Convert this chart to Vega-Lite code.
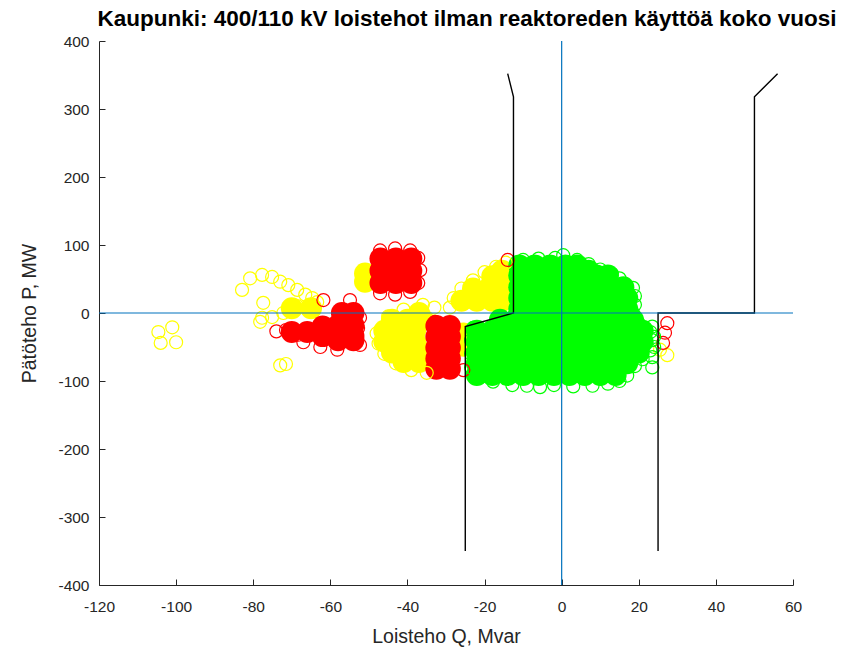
{
  "$schema": "https://vega.github.io/schema/vega-lite/v6.json",
  "width": 694,
  "height": 544,
  "autosize": {"type": "none"},
  "padding": {"left": 99, "top": 41, "right": 52, "bottom": 74},
  "background": "white",
  "config": {"view": {"stroke": null}, "font": "Liberation Sans"},
  "title": {
    "text": "Kaupunki: 400/110 kV loistehot ilman reaktoreden käyttöä koko vuosi",
    "font": "Liberation Sans", "fontSize": 22.5, "fontWeight": "bold", "color": "#000000",
    "anchor": "middle", "dx": 21, "dy": 30, "baseline": "bottom", "offset": 11
  },
  "datasets": {
    "tiheat": [
      {"Q": -70, "P": 7, "luokka": "keltainen"}, {"Q": -65, "P": 7, "luokka": "keltainen"},
      {"Q": -51, "P": 58, "luokka": "keltainen"}, {"Q": -51, "P": 46, "luokka": "keltainen"},
      {"Q": -37, "P": 0, "luokka": "keltainen"},
      {"Q": -44, "P": -10, "luokka": "keltainen"}, {"Q": -40, "P": -10, "luokka": "keltainen"}, {"Q": -36, "P": -10, "luokka": "keltainen"},
      {"Q": -46, "P": -26, "luokka": "keltainen"}, {"Q": -42, "P": -26, "luokka": "keltainen"}, {"Q": -38, "P": -26, "luokka": "keltainen"},
      {"Q": -46, "P": -42, "luokka": "keltainen"}, {"Q": -42, "P": -42, "luokka": "keltainen"}, {"Q": -38, "P": -42, "luokka": "keltainen"},
      {"Q": -44, "P": -58, "luokka": "keltainen"}, {"Q": -40, "P": -58, "luokka": "keltainen"}, {"Q": -36, "P": -58, "luokka": "keltainen"},
      {"Q": -41, "P": -72, "luokka": "keltainen"}, {"Q": -37, "P": -72, "luokka": "keltainen"},
      {"Q": -25.5, "P": -30, "luokka": "keltainen"}, {"Q": -25.5, "P": -48, "luokka": "keltainen"},
      {"Q": -26, "P": 18, "luokka": "keltainen"}, {"Q": -22, "P": 18, "luokka": "keltainen"}, {"Q": -18, "P": 18, "luokka": "keltainen"}, {"Q": -15.5, "P": 18, "luokka": "keltainen"},
      {"Q": -23, "P": 36, "luokka": "keltainen"}, {"Q": -19, "P": 36, "luokka": "keltainen"}, {"Q": -15.5, "P": 36, "luokka": "keltainen"},
      {"Q": -18, "P": 54, "luokka": "keltainen"}, {"Q": -15.5, "P": 54, "luokka": "keltainen"}, {"Q": -15.5, "P": 62, "luokka": "keltainen"},

      {"Q": -47, "P": 80, "luokka": "punainen"}, {"Q": -43, "P": 80, "luokka": "punainen"}, {"Q": -39, "P": 80, "luokka": "punainen"},
      {"Q": -47, "P": 62, "luokka": "punainen"}, {"Q": -43, "P": 62, "luokka": "punainen"}, {"Q": -39, "P": 62, "luokka": "punainen"},
      {"Q": -47, "P": 44, "luokka": "punainen"}, {"Q": -43, "P": 44, "luokka": "punainen"}, {"Q": -39, "P": 44, "luokka": "punainen"},
      {"Q": -57, "P": 0, "luokka": "punainen"}, {"Q": -54, "P": 0, "luokka": "punainen"},
      {"Q": -62, "P": -20, "luokka": "punainen"}, {"Q": -58, "P": -18, "luokka": "punainen"}, {"Q": -54, "P": -18, "luokka": "punainen"},
      {"Q": -66, "P": -28, "luokka": "punainen"}, {"Q": -62, "P": -34, "luokka": "punainen"}, {"Q": -58, "P": -34, "luokka": "punainen"}, {"Q": -54, "P": -34, "luokka": "punainen"},
      {"Q": -58, "P": -40, "luokka": "punainen"}, {"Q": -54, "P": -40, "luokka": "punainen"}, {"Q": -70, "P": -28, "luokka": "punainen"},
      {"Q": -32.5, "P": -19, "luokka": "punainen"}, {"Q": -29, "P": -19, "luokka": "punainen"},
      {"Q": -32.5, "P": -35, "luokka": "punainen"}, {"Q": -29, "P": -35, "luokka": "punainen"},
      {"Q": -32.5, "P": -51, "luokka": "punainen"}, {"Q": -29, "P": -51, "luokka": "punainen"},
      {"Q": -32.5, "P": -67, "luokka": "punainen"}, {"Q": -29, "P": -67, "luokka": "punainen"},
      {"Q": -32.5, "P": -82, "luokka": "punainen"}, {"Q": -29, "P": -82, "luokka": "punainen"},

      {"Q": -11, "P": 70, "luokka": "vihreä"}, {"Q": -7, "P": 70, "luokka": "vihreä"}, {"Q": -3, "P": 70, "luokka": "vihreä"}, {"Q": 1, "P": 70, "luokka": "vihreä"}, {"Q": 4, "P": 70, "luokka": "vihreä"},
      {"Q": 7, "P": 62, "luokka": "vihreä"},
      {"Q": -11, "P": 55, "luokka": "vihreä"}, {"Q": -7, "P": 55, "luokka": "vihreä"}, {"Q": -3, "P": 55, "luokka": "vihreä"}, {"Q": 1, "P": 55, "luokka": "vihreä"}, {"Q": 5, "P": 55, "luokka": "vihreä"}, {"Q": 9, "P": 55, "luokka": "vihreä"}, {"Q": 12, "P": 55, "luokka": "vihreä"},
      {"Q": -11, "P": 38, "luokka": "vihreä"}, {"Q": -7, "P": 38, "luokka": "vihreä"}, {"Q": -3, "P": 38, "luokka": "vihreä"}, {"Q": 1, "P": 38, "luokka": "vihreä"}, {"Q": 5, "P": 38, "luokka": "vihreä"}, {"Q": 9, "P": 38, "luokka": "vihreä"}, {"Q": 13, "P": 38, "luokka": "vihreä"}, {"Q": 16, "P": 38, "luokka": "vihreä"},
      {"Q": -11, "P": 22, "luokka": "vihreä"}, {"Q": -7, "P": 22, "luokka": "vihreä"}, {"Q": -3, "P": 22, "luokka": "vihreä"}, {"Q": 1, "P": 22, "luokka": "vihreä"}, {"Q": 5, "P": 22, "luokka": "vihreä"}, {"Q": 9, "P": 22, "luokka": "vihreä"}, {"Q": 13, "P": 22, "luokka": "vihreä"}, {"Q": 17, "P": 22, "luokka": "vihreä"},
      {"Q": -11, "P": 6, "luokka": "vihreä"}, {"Q": -7, "P": 6, "luokka": "vihreä"}, {"Q": -3, "P": 6, "luokka": "vihreä"}, {"Q": 1, "P": 6, "luokka": "vihreä"}, {"Q": 5, "P": 6, "luokka": "vihreä"}, {"Q": 9, "P": 6, "luokka": "vihreä"}, {"Q": 13, "P": 6, "luokka": "vihreä"}, {"Q": 17, "P": 6, "luokka": "vihreä"},
      {"Q": -16, "P": -10, "luokka": "vihreä"}, {"Q": -12, "P": -10, "luokka": "vihreä"}, {"Q": -8, "P": -10, "luokka": "vihreä"}, {"Q": -4, "P": -10, "luokka": "vihreä"}, {"Q": 0, "P": -10, "luokka": "vihreä"}, {"Q": 4, "P": -10, "luokka": "vihreä"}, {"Q": 8, "P": -10, "luokka": "vihreä"}, {"Q": 12, "P": -10, "luokka": "vihreä"}, {"Q": 16, "P": -10, "luokka": "vihreä"}, {"Q": 18.5, "P": -10, "luokka": "vihreä"},
      {"Q": -22, "P": -26, "luokka": "vihreä"}, {"Q": -18, "P": -26, "luokka": "vihreä"}, {"Q": -14, "P": -26, "luokka": "vihreä"}, {"Q": -10, "P": -26, "luokka": "vihreä"}, {"Q": -6, "P": -26, "luokka": "vihreä"}, {"Q": -2, "P": -26, "luokka": "vihreä"}, {"Q": 2, "P": -26, "luokka": "vihreä"}, {"Q": 6, "P": -26, "luokka": "vihreä"}, {"Q": 10, "P": -26, "luokka": "vihreä"}, {"Q": 14, "P": -26, "luokka": "vihreä"}, {"Q": 18, "P": -26, "luokka": "vihreä"}, {"Q": 21, "P": -26, "luokka": "vihreä"},
      {"Q": -22, "P": -42, "luokka": "vihreä"}, {"Q": -18, "P": -42, "luokka": "vihreä"}, {"Q": -14, "P": -42, "luokka": "vihreä"}, {"Q": -10, "P": -42, "luokka": "vihreä"}, {"Q": -6, "P": -42, "luokka": "vihreä"}, {"Q": -2, "P": -42, "luokka": "vihreä"}, {"Q": 2, "P": -42, "luokka": "vihreä"}, {"Q": 6, "P": -42, "luokka": "vihreä"}, {"Q": 10, "P": -42, "luokka": "vihreä"}, {"Q": 14, "P": -42, "luokka": "vihreä"}, {"Q": 18, "P": -42, "luokka": "vihreä"}, {"Q": 21, "P": -42, "luokka": "vihreä"},
      {"Q": -22, "P": -58, "luokka": "vihreä"}, {"Q": -18, "P": -58, "luokka": "vihreä"}, {"Q": -14, "P": -58, "luokka": "vihreä"}, {"Q": -10, "P": -58, "luokka": "vihreä"}, {"Q": -6, "P": -58, "luokka": "vihreä"}, {"Q": -2, "P": -58, "luokka": "vihreä"}, {"Q": 2, "P": -58, "luokka": "vihreä"}, {"Q": 6, "P": -58, "luokka": "vihreä"}, {"Q": 10, "P": -58, "luokka": "vihreä"}, {"Q": 14, "P": -58, "luokka": "vihreä"}, {"Q": 18, "P": -58, "luokka": "vihreä"}, {"Q": 20, "P": -58, "luokka": "vihreä"},
      {"Q": -22, "P": -74, "luokka": "vihreä"}, {"Q": -18, "P": -74, "luokka": "vihreä"}, {"Q": -14, "P": -74, "luokka": "vihreä"}, {"Q": -10, "P": -74, "luokka": "vihreä"}, {"Q": -6, "P": -74, "luokka": "vihreä"}, {"Q": -2, "P": -74, "luokka": "vihreä"}, {"Q": 2, "P": -74, "luokka": "vihreä"}, {"Q": 6, "P": -74, "luokka": "vihreä"}, {"Q": 10, "P": -74, "luokka": "vihreä"}, {"Q": 14, "P": -74, "luokka": "vihreä"}, {"Q": 17, "P": -74, "luokka": "vihreä"},
      {"Q": -22, "P": -91, "luokka": "vihreä"}, {"Q": -18, "P": -91, "luokka": "vihreä"}, {"Q": -14, "P": -91, "luokka": "vihreä"}, {"Q": -10, "P": -91, "luokka": "vihreä"}, {"Q": -6, "P": -91, "luokka": "vihreä"}, {"Q": -2, "P": -91, "luokka": "vihreä"}, {"Q": 2, "P": -91, "luokka": "vihreä"}, {"Q": 6, "P": -91, "luokka": "vihreä"}, {"Q": 10, "P": -91, "luokka": "vihreä"}, {"Q": 14, "P": -91, "luokka": "vihreä"}
    ],
    "yksittaiset": [
      {"Q": -104.6, "P": -28, "luokka": "keltainen"}, {"Q": -101, "P": -21, "luokka": "keltainen"}, {"Q": -104, "P": -44, "luokka": "keltainen"}, {"Q": -100, "P": -43, "luokka": "keltainen"},
      {"Q": -82.9, "P": 34, "luokka": "keltainen"}, {"Q": -80.8, "P": 51, "luokka": "keltainen"}, {"Q": -77.7, "P": 56, "luokka": "keltainen"}, {"Q": -75.1, "P": 53, "luokka": "keltainen"},
      {"Q": -73, "P": 46, "luokka": "keltainen"}, {"Q": -70.9, "P": 41, "luokka": "keltainen"}, {"Q": -68.6, "P": 34, "luokka": "keltainen"}, {"Q": -66.5, "P": 27, "luokka": "keltainen"},
      {"Q": -64.7, "P": 22, "luokka": "keltainen"}, {"Q": -63.4, "P": 16, "luokka": "keltainen"}, {"Q": -77.4, "P": 15, "luokka": "keltainen"}, {"Q": -78.2, "P": -13, "luokka": "keltainen"},
      {"Q": -75.1, "P": -6, "luokka": "keltainen"}, {"Q": -72.2, "P": 0, "luokka": "keltainen"}, {"Q": -68.6, "P": 10, "luokka": "keltainen"}, {"Q": -77.7, "P": -7, "luokka": "keltainen"},
      {"Q": -73, "P": -77, "luokka": "keltainen"}, {"Q": -71.5, "P": -75, "luokka": "keltainen"},
      {"Q": -48, "P": -30, "luokka": "keltainen"}, {"Q": -47.5, "P": -45, "luokka": "keltainen"}, {"Q": -46, "P": -60, "luokka": "keltainen"}, {"Q": -45, "P": -5, "luokka": "keltainen"},
      {"Q": -41, "P": 5, "luokka": "keltainen"}, {"Q": -36, "P": 12, "luokka": "keltainen"}, {"Q": -43, "P": -74, "luokka": "keltainen"}, {"Q": -39, "P": -84, "luokka": "keltainen"},
      {"Q": -35, "P": -88, "luokka": "keltainen"}, {"Q": -33, "P": 8, "luokka": "keltainen"},
      {"Q": -29, "P": 8, "luokka": "keltainen"}, {"Q": -28, "P": 22, "luokka": "keltainen"}, {"Q": -26, "P": 36, "luokka": "keltainen"}, {"Q": -23, "P": 48, "luokka": "keltainen"},
      {"Q": -20, "P": 60, "luokka": "keltainen"}, {"Q": -17, "P": 68, "luokka": "keltainen"}, {"Q": -14.5, "P": 74, "luokka": "keltainen"},
      {"Q": 27.4, "P": -62, "luokka": "keltainen"}, {"Q": 25.5, "P": -54, "luokka": "keltainen"},

      {"Q": -47.1, "P": 92, "luokka": "punainen"}, {"Q": -43.2, "P": 95, "luokka": "punainen"}, {"Q": -39.3, "P": 92, "luokka": "punainen"}, {"Q": -37.2, "P": 81, "luokka": "punainen"},
      {"Q": -36.7, "P": 63, "luokka": "punainen"}, {"Q": -37.2, "P": 44, "luokka": "punainen"}, {"Q": -39.3, "P": 31, "luokka": "punainen"}, {"Q": -43.2, "P": 27, "luokka": "punainen"},
      {"Q": -47.1, "P": 29, "luokka": "punainen"},
      {"Q": -61.8, "P": 19, "luokka": "punainen"}, {"Q": -54.9, "P": 19, "luokka": "punainen"}, {"Q": -52.3, "P": -7, "luokka": "punainen"}, {"Q": -52.8, "P": -22, "luokka": "punainen"},
      {"Q": -52.3, "P": -47, "luokka": "punainen"}, {"Q": -54.3, "P": -40, "luokka": "punainen"}, {"Q": -58.2, "P": -54, "luokka": "punainen"}, {"Q": -62.6, "P": -50, "luokka": "punainen"},
      {"Q": -67, "P": -43, "luokka": "punainen"}, {"Q": -68.3, "P": -32, "luokka": "punainen"}, {"Q": -74, "P": -27, "luokka": "punainen"}, {"Q": -71.5, "P": -25, "luokka": "punainen"},
      {"Q": -32.8, "P": -13, "luokka": "punainen"}, {"Q": -28.9, "P": -25, "luokka": "punainen"}, {"Q": -25.5, "P": -84, "luokka": "punainen"}, {"Q": -14, "P": 78, "luokka": "punainen"},
      {"Q": 27.4, "P": -15, "luokka": "punainen"}, {"Q": 26.8, "P": -29, "luokka": "punainen"}, {"Q": 26.3, "P": -44, "luokka": "punainen"},

      {"Q": -10, "P": 78, "luokka": "vihreä"}, {"Q": -6, "P": 80, "luokka": "vihreä"}, {"Q": -1.7, "P": 81, "luokka": "vihreä"}, {"Q": 0.4, "P": 85, "luokka": "vihreä"},
      {"Q": 4, "P": 78, "luokka": "vihreä"}, {"Q": 7, "P": 72, "luokka": "vihreä"}, {"Q": 10, "P": 64, "luokka": "vihreä"}, {"Q": 13, "P": 58, "luokka": "vihreä"},
      {"Q": 15, "P": 51, "luokka": "vihreä"}, {"Q": 18.5, "P": 37, "luokka": "vihreä"}, {"Q": 19, "P": 25, "luokka": "vihreä"}, {"Q": 19, "P": 12, "luokka": "vihreä"},
      {"Q": 18.5, "P": 0, "luokka": "vihreä"}, {"Q": 17.7, "P": -6, "luokka": "vihreä"}, {"Q": 20, "P": -15, "luokka": "vihreä"}, {"Q": 23, "P": -28, "luokka": "vihreä"},
      {"Q": 23.5, "P": -40, "luokka": "vihreä"}, {"Q": 23, "P": -55, "luokka": "vihreä"}, {"Q": 21, "P": -68, "luokka": "vihreä"}, {"Q": 19, "P": -78, "luokka": "vihreä"},
      {"Q": 17, "P": -92, "luokka": "vihreä"}, {"Q": 15, "P": -100, "luokka": "vihreä"}, {"Q": 12, "P": -104, "luokka": "vihreä"}, {"Q": 8, "P": -107, "luokka": "vihreä"},
      {"Q": 3, "P": -108, "luokka": "vihreä"}, {"Q": -2, "P": -106, "luokka": "vihreä"}, {"Q": -5.6, "P": -109, "luokka": "vihreä"}, {"Q": -9, "P": -107, "luokka": "vihreä"},
      {"Q": -12.8, "P": -106, "luokka": "vihreä"}, {"Q": -17.8, "P": -101, "luokka": "vihreä"}, {"Q": -21, "P": -94, "luokka": "vihreä"}, {"Q": -23.5, "P": -80, "luokka": "vihreä"},
      {"Q": -23.5, "P": -60, "luokka": "vihreä"}, {"Q": -23.5, "P": -40, "luokka": "vihreä"}, {"Q": -23, "P": -22, "luokka": "vihreä"},
      {"Q": 23.5, "P": -20, "luokka": "vihreä"}, {"Q": 24, "P": -35, "luokka": "vihreä"}, {"Q": 24, "P": -50, "luokka": "vihreä"}, {"Q": 23.5, "P": -65, "luokka": "vihreä"}, {"Q": 23.5, "P": -80, "luokka": "vihreä"}
    ],
    "rajat": [
      {"viiva": "raja1", "n": 1, "Q": -14, "P": 352}, {"viiva": "raja1", "n": 2, "Q": -12.5, "P": 318},
      {"viiva": "raja1", "n": 3, "Q": -12.5, "P": 0}, {"viiva": "raja1", "n": 4, "Q": -25, "P": -20},
      {"viiva": "raja1", "n": 5, "Q": -25, "P": -350},
      {"viiva": "raja2", "n": 1, "Q": 56, "P": 352}, {"viiva": "raja2", "n": 2, "Q": 50, "P": 318},
      {"viiva": "raja2", "n": 3, "Q": 50, "P": 0}, {"viiva": "raja2", "n": 4, "Q": 25, "P": 0},
      {"viiva": "raja2", "n": 5, "Q": 25, "P": -350}
    ],
    "akselit": [
      {"viiva": "Q-akseli", "n": 1, "Q": -120, "P": 0}, {"viiva": "Q-akseli", "n": 2, "Q": 60, "P": 0},
      {"viiva": "P-akseli", "n": 1, "Q": 0, "P": -400}, {"viiva": "P-akseli", "n": 2, "Q": 0, "P": 400}
    ]
  },
  "encoding": {
    "x": {
      "field": "Q", "type": "quantitative",
      "scale": {"domain": [-120, 60], "nice": false, "zero": false},
      "axis": {
        "title": "Loisteho Q, Mvar",
        "values": [-120, -100, -80, -60, -40, -20, 0, 20, 40, 60],
        "labelExpr": "'' + datum.value",
        "grid": false, "domainColor": "#262626", "tickColor": "#262626", "labelColor": "#262626", "titleColor": "#262626",
        "labelFont": "Liberation Sans", "titleFont": "Liberation Sans", "labelFontSize": 15.5, "titleFontSize": 19.5, "titleFontWeight": "normal",
        "tickSize": -6, "labelPadding": 20, "titlePadding": 13, "labelFlush": false, "labelOverlap": false
      }
    },
    "y": {
      "field": "P", "type": "quantitative",
      "scale": {"domain": [-400, 400], "nice": false, "zero": false},
      "axis": {
        "title": "Pätöteho P, MW",
        "values": [-400, -300, -200, -100, 0, 100, 200, 300, 400],
        "labelExpr": "'' + datum.value",
        "grid": false, "domainColor": "#262626", "tickColor": "#262626", "labelColor": "#262626", "titleColor": "#262626",
        "labelFont": "Liberation Sans", "titleFont": "Liberation Sans", "labelFontSize": 15.5, "titleFontSize": 19.5, "titleFontWeight": "normal",
        "tickSize": -6, "labelPadding": 16, "titlePadding": 18, "labelFlush": false, "labelOverlap": false
      }
    }
  },
  "layer": [
    {
      "data": {"name": "tiheat"},
      "mark": {"type": "point", "shape": "circle", "filled": true, "size": 484, "opacity": 1, "strokeWidth": 0},
      "encoding": {
        "color": {"field": "luokka", "type": "nominal", "scale": {"domain": ["keltainen", "punainen", "vihreä"], "range": ["#ffff00", "#ff0000", "#00ff00"]}, "legend": null}
      }
    },
    {
      "data": {"name": "yksittaiset"},
      "mark": {"type": "point", "shape": "circle", "filled": false, "size": 169, "opacity": 1, "strokeWidth": 1.2},
      "encoding": {
        "color": {"field": "luokka", "type": "nominal", "scale": {"domain": ["keltainen", "punainen", "vihreä"], "range": ["#ffff00", "#ff0000", "#00ff00"]}, "legend": null}
      }
    },
    {
      "data": {"name": "rajat"},
      "mark": {"type": "line", "color": "#000000", "strokeWidth": 1.4},
      "encoding": {"detail": {"field": "viiva", "type": "nominal"}, "order": {"field": "n", "type": "quantitative"}}
    },
    {
      "data": {"name": "akselit"},
      "mark": {"type": "line", "color": "#0072bd", "strokeWidth": 1.2},
      "encoding": {"detail": {"field": "viiva", "type": "nominal"}, "order": {"field": "n", "type": "quantitative"}}
    }
  ]
}
